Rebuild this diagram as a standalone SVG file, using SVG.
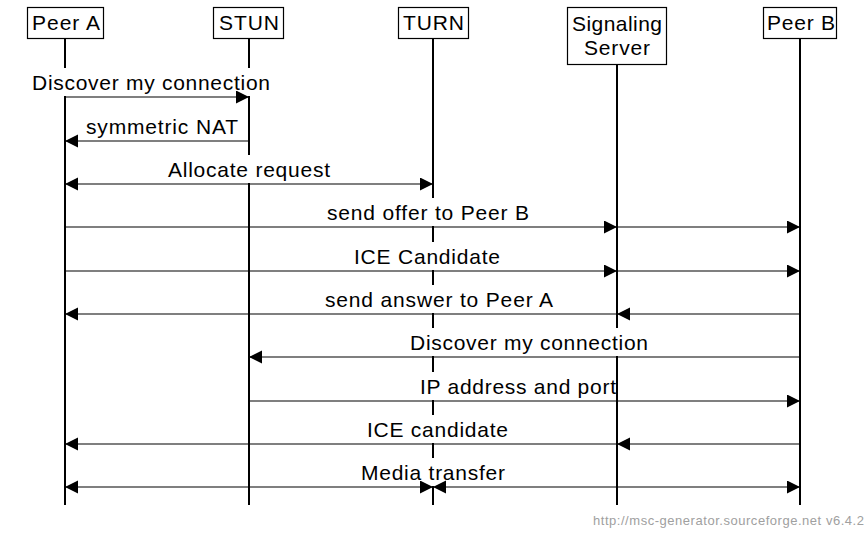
<svg xmlns="http://www.w3.org/2000/svg" width="866" height="534" viewBox="0 0 866 534">
<defs>
<marker id="ah" markerUnits="userSpaceOnUse" markerWidth="14" markerHeight="14" refX="13" refY="6.5" orient="auto-start-reverse" viewBox="0 0 14 14"><path d="M0,0 L13,6.5 L0,13 z" fill="#000"/></marker>
</defs>
<style>
.box{fill:#fff;stroke:#000;stroke-width:1.2}
.life{stroke:#000;stroke-width:2}
.t{font-family:"Liberation Sans",Arial,sans-serif;font-size:21px;fill:#000}
.bg{fill:#fff}
.a{stroke:#000;stroke-width:1.2;fill:none}
.ae{marker-end:url(#ah)}
.ab{marker-start:url(#ah);marker-end:url(#ah)}
.foot{font-family:"Liberation Sans",Arial,sans-serif;font-size:13px;fill:#a0a0a0}
</style>
<rect width="866" height="534" fill="#fff"/>
<g id="nodes">
<g id="peerA"><line class="life" x1="65" y1="38.5" x2="65" y2="505"/><rect class="box" x="27.5" y="7.5" width="76" height="31"/><text class="t" x="32" y="29.5" textLength="68" lengthAdjust="spacing">Peer A</text></g>
<g id="stun"><line class="life" x1="249" y1="38.5" x2="249" y2="505"/><rect class="box" x="213.5" y="7.5" width="70" height="31"/><text class="t" x="219" y="29.5" textLength="60" lengthAdjust="spacing">STUN</text></g>
<g id="turn"><line class="life" x1="433" y1="38.5" x2="433" y2="505"/><rect class="box" x="398.5" y="7.5" width="70" height="31"/><text class="t" x="403" y="29.5" textLength="61" lengthAdjust="spacing">TURN</text></g>
<g id="signaling"><line class="life" x1="617" y1="64.5" x2="617" y2="505"/><rect class="box" x="567.5" y="7.5" width="99" height="57"/><text class="t" x="572" y="31" textLength="90" lengthAdjust="spacing">Signaling</text><text class="t" x="584" y="55" textLength="66" lengthAdjust="spacing">Server</text></g>
<g id="peerB"><line class="life" x1="800" y1="38.5" x2="800" y2="505"/><rect class="box" x="763.5" y="7.5" width="73" height="31"/><text class="t" x="767" y="29.5" textLength="68" lengthAdjust="spacing">Peer B</text></g>
</g>
<g id="connectors">
<g id="m1"><rect class="bg" x="30" y="68" width="242" height="28"/><text class="t" x="32" y="90" textLength="238" lengthAdjust="spacing">Discover my connection</text><line class="a ae" x1="65" y1="97" x2="249" y2="97"/></g>
<g id="m2"><rect class="bg" x="84" y="112" width="156" height="28"/><text class="t" x="86" y="134" textLength="152" lengthAdjust="spacing">symmetric NAT</text><line class="a ae" x1="249" y1="141" x2="65" y2="141"/></g>
<g id="m3"><rect class="bg" x="166" y="155" width="166" height="28"/><text class="t" x="168" y="177" textLength="162" lengthAdjust="spacing">Allocate request</text><line class="a ab" x1="65" y1="184" x2="433" y2="184"/></g>
<g id="m4"><rect class="bg" x="325" y="198" width="206" height="28"/><text class="t" x="327" y="220" textLength="202" lengthAdjust="spacing">send offer to Peer B</text><line class="a ae" x1="65" y1="227" x2="617" y2="227"/><line class="a ae" x1="617" y1="227" x2="800" y2="227"/></g>
<g id="m5"><rect class="bg" x="352" y="242" width="150" height="28"/><text class="t" x="354" y="264" textLength="146" lengthAdjust="spacing">ICE Candidate</text><line class="a ae" x1="65" y1="271" x2="617" y2="271"/><line class="a ae" x1="617" y1="271" x2="800" y2="271"/></g>
<g id="m6"><rect class="bg" x="323" y="285" width="232" height="28"/><text class="t" x="325" y="307" textLength="228" lengthAdjust="spacing">send answer to Peer A</text><line class="a ae" x1="800" y1="314" x2="617" y2="314"/><line class="a ae" x1="617" y1="314" x2="65" y2="314"/></g>
<g id="m7"><rect class="bg" x="408" y="328" width="242" height="28"/><text class="t" x="410" y="350" textLength="238" lengthAdjust="spacing">Discover my connection</text><line class="a ae" x1="800" y1="357" x2="249" y2="357"/></g>
<g id="m8"><rect class="bg" x="418" y="372" width="198" height="28"/><text class="t" x="420" y="394" textLength="196" lengthAdjust="spacing">IP address and port</text><line class="a ae" x1="249" y1="401" x2="800" y2="401"/></g>
<g id="m9"><rect class="bg" x="365" y="415" width="145" height="28"/><text class="t" x="367" y="437" textLength="141" lengthAdjust="spacing">ICE candidate</text><line class="a ae" x1="800" y1="444" x2="617" y2="444"/><line class="a ae" x1="617" y1="444" x2="65" y2="444"/></g>
<g id="m10"><rect class="bg" x="359" y="458" width="148" height="28"/><text class="t" x="361" y="480" textLength="144" lengthAdjust="spacing">Media transfer</text><line class="a ab" x1="65" y1="487" x2="433" y2="487"/><line class="a ab" x1="433" y1="487" x2="800" y2="487"/></g>
</g>
<text class="foot" x="593" y="525" textLength="271" lengthAdjust="spacing">http://msc-generator.sourceforge.net v6.4.2</text>
</svg>
